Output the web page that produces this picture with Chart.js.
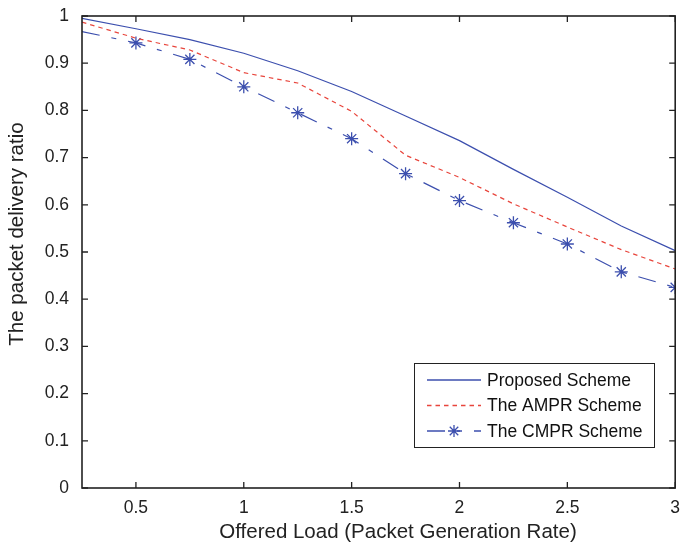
<!DOCTYPE html>
<html>
<head>
<meta charset="utf-8">
<script src="https://cdn.jsdelivr.net/npm/chart.js@4/dist/chart.umd.min.js"></script>
<style>
  html, body { margin: 0; padding: 0; background: #fff; }
</style>
</head>
<body>
<canvas id="myChart" width="683" height="552"></canvas>
<script>
var loads = [0.25, 0.5, 0.75, 1, 1.25, 1.5, 1.75, 2, 2.25, 2.5, 2.75, 3];
var proposed = [0.995, 0.973, 0.950, 0.921, 0.884, 0.840, 0.788, 0.736, 0.675, 0.616, 0.555, 0.503];
var ampr = [0.987, 0.953, 0.928, 0.880, 0.858, 0.798, 0.705, 0.658, 0.602, 0.553, 0.505, 0.464];
var cmpr = [0.967, 0.943, 0.908, 0.850, 0.795, 0.740, 0.666, 0.609, 0.562, 0.517, 0.458, 0.425];
var xTicks = [0.5, 1, 1.5, 2, 2.5, 3];
var yTicks = [0, 0.1, 0.2, 0.3, 0.4, 0.5, 0.6, 0.7, 0.8, 0.9, 1];
var names = ["Proposed Scheme", "The AMPR Scheme", "The CMPR Scheme"];
var xTitle = "Offered Load (Packet Generation Rate)";
var yTitle = "The packet delivery ratio";

var font = "Liberation Sans, Arial, Helvetica, sans-serif";
var blue = "#3c4fae";
var red = "#e8453c";

function pts(ys) {
  return loads.map(function (x, i) { return { x: x, y: ys[i] }; });
}

function label(v) {
  return String(Math.round(v * 10) / 10);
}

// box, inward ticks, axis titles and the legend, matlab style
var matlabLook = {
  id: "matlabLook",
  afterDraw: function (chart) {
    var c = chart.ctx, a = chart.chartArea;
    var xs = chart.scales.x, ys = chart.scales.y;
    c.save();
    c.strokeStyle = "#222";
    c.lineWidth = 1.3;
    c.beginPath();
    xTicks.forEach(function (v) {
      var px = xs.getPixelForValue(v);
      c.moveTo(px, a.bottom); c.lineTo(px, a.bottom - 6);
      c.moveTo(px, a.top); c.lineTo(px, a.top + 6);
    });
    yTicks.forEach(function (v) {
      var py = ys.getPixelForValue(v);
      c.moveTo(a.left, py); c.lineTo(a.left + 6, py);
      c.moveTo(a.right, py); c.lineTo(a.right - 6, py);
    });
    c.stroke();
    c.lineWidth = 1.6;
    c.strokeRect(a.left, a.top, a.right - a.left, a.bottom - a.top);

    // axis titles
    c.fillStyle = "#222";
    c.font = "20.5px " + font;
    c.textAlign = "center";
    c.textBaseline = "middle";
    c.fillText(xTitle, 398, 532);
    c.translate(17, 234);
    c.rotate(-Math.PI / 2);
    c.fillText(yTitle, 0, 0);
    c.restore();

    // legend
    c.save();
    var lx = 414, ly = 363, lw = 240, lh = 84;
    c.fillStyle = "#fff";
    c.fillRect(lx, ly, lw, lh);
    c.strokeStyle = "#222";
    c.lineWidth = 1;
    c.strokeRect(lx + 0.5, ly + 0.5, lw, lh);
    c.font = "17.5px " + font;
    c.textAlign = "left";
    c.textBaseline = "middle";
    chart.data.datasets.forEach(function (ds, i) {
      var y = 380 + i * 25.5;
      c.strokeStyle = ds.borderColor;
      c.lineWidth = 1.3;
      c.setLineDash(ds.borderDash || []);
      c.beginPath();
      c.moveTo(427, y); c.lineTo(481, y);
      c.stroke();
      c.setLineDash([]);
      if (ds.pointStyle === "star") {
        c.strokeStyle = blue;
        Chart.helpers.drawPoint(c, { pointStyle: "star", radius: 6, borderWidth: 1.3 }, 454, y);
      }
      c.fillStyle = "#111";
      c.fillText(ds.label, 487, y + 1);
    });
    c.restore();
  }
};

new Chart(document.getElementById("myChart"), {
  type: "line",
  data: {
    datasets: [
      {
        label: names[0], data: pts(proposed),
        borderColor: blue, borderWidth: 1.2, pointRadius: 0, fill: false
      },
      {
        label: names[1], data: pts(ampr),
        borderColor: red, borderWidth: 1.2, borderDash: [4.5, 4], pointRadius: 0, fill: false
      },
      {
        label: names[2], data: pts(cmpr),
        borderColor: blue, borderWidth: 1.2, borderDash: [18, 12, 5, 12],
        pointStyle: "star", pointBorderColor: blue, pointBorderWidth: 1.3,
        pointRadius: function (ctx) { return ctx.dataIndex === 0 ? 0 : 6.5; },
        fill: false
      }
    ]
  },
  options: {
    responsive: false,
    animation: false,
    layout: { padding: { left: 0, top: 16, right: 4, bottom: 0 } },
    plugins: { legend: { display: false }, tooltip: { enabled: false } },
    scales: {
      x: {
        type: "linear", min: 0.25, max: 3,
        grid: { display: false, drawTicks: false },
        border: { display: false },
        ticks: { color: "#222", font: { family: font, size: 17.5 }, padding: 10, maxRotation: 0, callback: label },
        afterBuildTicks: function (s) { s.ticks = xTicks.map(function (v) { return { value: v }; }); },
        afterFit: function (s) { s.height = 64; s.paddingLeft = 0; s.paddingRight = 0; }
      },
      y: {
        type: "linear", min: 0, max: 1,
        grid: { display: false, drawTicks: false },
        border: { display: false },
        ticks: { color: "#222", font: { family: font, size: 17.5 }, padding: 13, callback: label },
        afterBuildTicks: function (s) { s.ticks = yTicks.map(function (v) { return { value: v }; }); },
        afterFit: function (s) { s.width = 82; s.paddingTop = 0; s.paddingBottom = 0; }
      }
    }
  },
  plugins: [matlabLook]
});
</script>
</body>
</html>
